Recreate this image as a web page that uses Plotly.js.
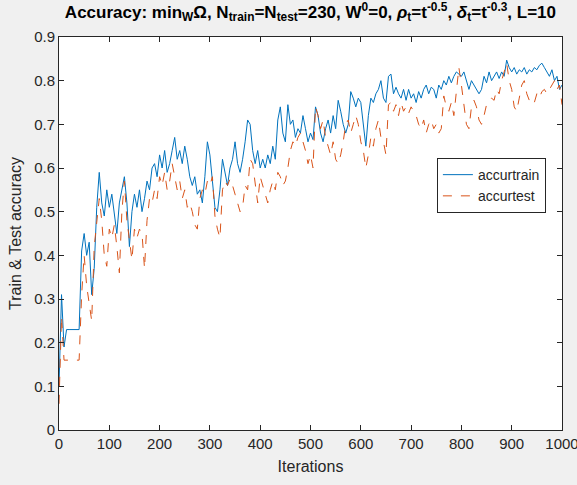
<!DOCTYPE html>
<html>
<head>
<meta charset="utf-8">
<script src="https://cdn.plot.ly/plotly-3.0.1.min.js"></script>
<style>
html,body{margin:0;padding:0;background:#f0f0f0;}
#chart{width:577px;height:485px;}
</style>
</head>
<body>
<div id="chart"></div>
<script>
// iteration step between recorded samples
const iterStep = 5;

const accurTrain = [
0.10,0.31,0.19,0.23,0.23,0.23,0.23,0.23,0.23,0.41,
0.45,0.40,0.43,0.31,0.37,0.51,0.59,0.52,0.49,0.55,
0.51,0.54,0.50,0.45,0.52,0.55,0.58,0.52,0.42,0.50,
0.54,0.51,0.55,0.50,0.53,0.57,0.55,0.60,0.61,0.58,
0.63,0.60,0.64,0.59,0.61,0.64,0.67,0.62,0.64,0.61,
0.65,0.62,0.58,0.56,0.58,0.54,0.55,0.52,0.58,0.66,
0.63,0.57,0.51,0.50,0.55,0.62,0.59,0.56,0.60,0.62,
0.66,0.61,0.59,0.62,0.66,0.71,0.70,0.64,0.61,0.64,
0.60,0.62,0.60,0.63,0.61,0.65,0.62,0.71,0.74,0.68,
0.66,0.745,0.70,0.71,0.67,0.69,0.68,0.72,0.69,0.66,
0.68,0.665,0.74,0.72,0.68,0.66,0.69,0.71,0.68,0.72,
0.69,0.755,0.73,0.70,0.68,0.70,0.775,0.76,0.74,0.76,
0.75,0.70,0.65,0.72,0.76,0.75,0.77,0.78,0.80,0.76,
0.75,0.81,0.815,0.77,0.785,0.77,0.76,0.78,0.755,0.78,
0.76,0.77,0.75,0.775,0.76,0.78,0.79,0.77,0.785,0.78,
0.76,0.79,0.78,0.80,0.79,0.81,0.795,0.81,0.82,0.815,
0.81,0.82,0.80,0.78,0.80,0.79,0.78,0.77,0.78,0.81,
0.795,0.82,0.80,0.81,0.82,0.805,0.82,0.81,0.847,0.83,
0.82,0.83,0.815,0.825,0.82,0.83,0.815,0.825,0.82,0.83,
0.825,0.835,0.84,0.83,0.82,0.81,0.825,0.80,0.81,0.78,
0.79
];

const accurTest = [
0.06,0.26,0.16,0.16,0.16,0.16,0.16,0.16,0.16,0.31,
0.40,0.33,0.29,0.25,0.42,0.47,0.53,0.48,0.40,0.375,
0.46,0.44,0.47,0.42,0.36,0.50,0.57,0.48,0.43,0.39,
0.46,0.44,0.46,0.45,0.37,0.48,0.53,0.52,0.55,0.53,
0.58,0.56,0.59,0.55,0.57,0.61,0.58,0.55,0.57,0.53,
0.55,0.51,0.52,0.50,0.47,0.46,0.53,0.55,0.54,0.57,
0.56,0.58,0.49,0.46,0.44,0.55,0.57,0.56,0.575,0.56,
0.54,0.52,0.50,0.51,0.56,0.55,0.62,0.61,0.56,0.52,
0.58,0.56,0.54,0.52,0.55,0.57,0.55,0.59,0.58,0.56,
0.57,0.60,0.64,0.66,0.65,0.67,0.68,0.66,0.64,0.61,
0.63,0.60,0.74,0.72,0.69,0.71,0.67,0.65,0.63,0.66,
0.62,0.61,0.63,0.66,0.70,0.71,0.68,0.70,0.72,0.70,
0.66,0.64,0.60,0.63,0.67,0.65,0.69,0.71,0.67,0.66,
0.63,0.745,0.75,0.73,0.745,0.72,0.75,0.73,0.74,0.725,
0.74,0.73,0.72,0.70,0.69,0.71,0.68,0.70,0.71,0.69,
0.70,0.68,0.69,0.765,0.74,0.73,0.75,0.72,0.78,0.83,
0.79,0.75,0.70,0.69,0.74,0.755,0.74,0.71,0.70,0.72,
0.745,0.75,0.76,0.755,0.78,0.77,0.80,0.82,0.84,0.80,
0.78,0.74,0.73,0.76,0.79,0.80,0.77,0.755,0.76,0.75,
0.77,0.76,0.775,0.78,0.77,0.78,0.79,0.80,0.78,0.79,
0.745
];

const seriesNames = ['accurtrain', 'accurtest'];
const xTickVals = [0,100,200,300,400,500,600,700,800,900,1000];
const yTickVals = [0,0.1,0.2,0.3,0.4,0.5,0.6,0.7,0.8,0.9];

const iters = accurTrain.map((_, i) => i * iterStep);

const axisColor = '#262626';
const font = 'Arial, "Liberation Sans", Helvetica, sans-serif';

const traces = [
  {x: iters, y: accurTrain, type: 'scatter', mode: 'lines', name: seriesNames[0],
   line: {color: '#0072BD', width: 1}},
  {x: iters, y: accurTest, type: 'scatter', mode: 'lines', name: seriesNames[1],
   line: {color: '#D95319', width: 1, dash: 'dash'}}
];

const axisCommon = {
  showline: true, linecolor: axisColor, linewidth: 1, mirror: 'ticks',
  ticks: 'inside', ticklen: 5, tickcolor: axisColor, tickwidth: 1,
  showgrid: false, zeroline: false, ticklabeloverflow: 'allow',
  tickfont: {family: font, size: 15, color: axisColor}
};

const layout = {
  width: 577, height: 485,
  paper_bgcolor: '#f0f0f0', plot_bgcolor: '#ffffff',
  margin: {l: 59, r: 15, t: 37, b: 55},
  showlegend: true,
  title: {
    text: '<b>Accuracy: min<sub>W</sub>Ω, N<sub>train</sub>=N<sub>test</sub>=230, W<sup>0</sup>=0, <i>ρ</i><sub>t</sub>=t<sup>-0.5</sup>, <i>δ</i><sub>t</sub>=t<sup>-0.3</sup>, L=10</b>',
    font: {family: font, size: 17, color: '#000000'},
    x: 0.538, xanchor: 'center', y: 0.988, yanchor: 'top'
  },
  xaxis: Object.assign({}, axisCommon, {
    range: [0, 1000], tickvals: xTickVals,
    title: {text: 'Iterations', font: {family: font, size: 16, color: axisColor}, standoff: 9}
  }),
  yaxis: Object.assign({}, axisCommon, {
    range: [0, 0.9], tickvals: yTickVals,
    title: {text: 'Train & Test accuracy', font: {family: font, size: 16, color: axisColor}, standoff: 8}
  }),
  legend: {
    x: 0.968, xanchor: 'right', y: 0.692, yanchor: 'top',
    bgcolor: '#ffffff', bordercolor: axisColor, borderwidth: 1,
    font: {family: font, size: 14, color: axisColor},
    tracegroupgap: 0
  }
};

Plotly.newPlot('chart', traces, layout, {displayModeBar: false, staticPlot: true});
</script>
</body>
</html>
